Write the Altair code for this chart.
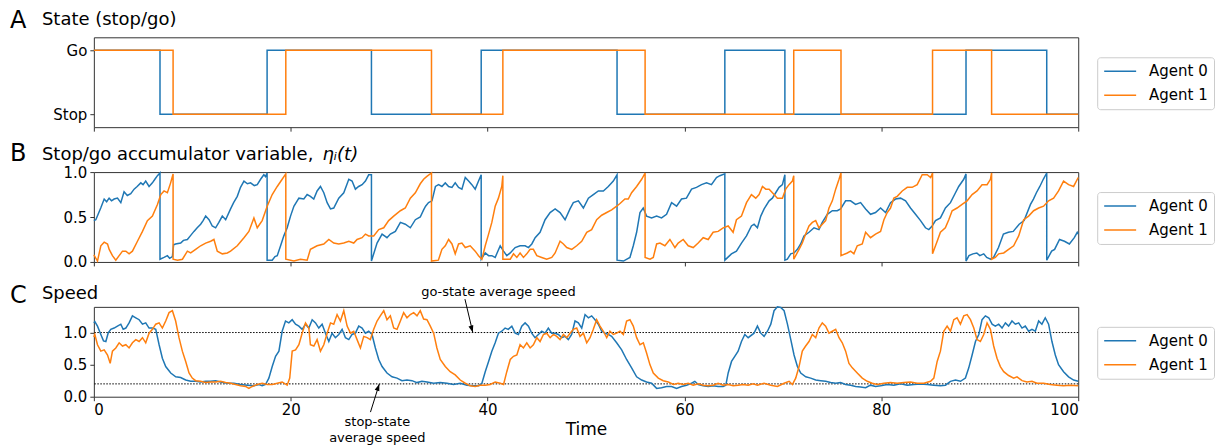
import altair as alt
import pandas as pd

AGENTS = ["Agent 0", "Agent 1"]
COLORS = ["#1f77b4", "#ff7f0e"]
FONT = "DejaVu Sans"

# ---- Panel A: stop/go state (1 = Go, 0 = Stop), value holds until the next switch ----
state_agent0 = [(0, 1), (6.72, 0), (17.6, 1), (28.2, 0), (39.35, 1), (53.15, 0), (64.1, 1),
                (70.2, 0), (88.6, 1), (96.8, 0), (100, 0)]
state_agent1 = [(0, 1), (8.05, 0), (19.5, 1), (34.3, 0), (41.55, 1), (56.0, 0), (71.1, 1),
                (75.9, 0), (85.2, 1), (91.2, 0), (100, 0)]

# ---- Panel B: accumulator eta_i(t); repeated times are resets from ~1 back to ~0 ----
eta_agent0 = [
    (0.0, .46), (0.2, .47), (0.7, .60), (1.05, .70), (1.3, .67), (1.55, .71), (1.8, .68), (2.06, .70),
    (2.4, .71), (2.74, .66), (3.07, .78), (3.4, .74), (3.75, .76), (4.09, .81), (4.4, .84), (4.77, .88),
    (5.0, .86), (5.27, .90), (5.61, .84), (5.95, .88), (6.2, .92), (6.46, .96), (6.72, .99),
    (6.72, .03), (7.13, .05), (7.47, .07), (7.7, .04), (7.98, .06), (8.1, .19), (8.3, .20), (8.82, .21),
    (9.1, .24), (9.5, .25), (9.8, .29), (10.17, .34), (10.5, .38), (10.85, .42), (11.1, .46), (11.36, .51),
    (11.7, .47), (12.03, .40), (12.37, .38), (12.7, .44), (13.05, .51), (13.39, .47), (13.89, .59),
    (14.2, .66), (14.57, .73), (14.9, .83), (15.25, .90), (15.6, .87), (15.92, .88), (16.3, .85),
    (16.6, .86), (16.94, .92), (17.27, .97), (17.44, .95), (17.6, .99),
    (17.6, .02), (18.12, .02), (18.4, .06), (18.63, .07), (18.97, .18), (19.3, .29), (19.64, .38),
    (19.98, .51), (20.32, .62), (20.83, .71), (21.33, .70), (21.67, .75), (22.0, .73), (22.34, .70),
    (22.68, .79), (23.02, .84), (23.36, .77), (23.7, .66), (24.04, .59), (24.37, .60), (24.88, .71),
    (25.39, .77), (25.9, .92), (26.23, .90), (26.57, .81), (26.9, .84), (27.25, .86), (27.59, .90),
    (27.92, .97), (28.2, .97),
    (28.2, .01), (28.77, .21), (29.28, .31), (29.78, .27), (30.12, .31), (30.63, .34), (31.14, .44),
    (31.64, .42), (32.15, .38), (32.66, .47), (33.16, .50), (33.5, .58), (33.7, .62), (34.0, .66),
    (34.35, .68), (34.7, .84), (35.02, .86), (35.36, .84), (35.7, .88), (36.04, .84), (36.38, .83),
    (36.71, .88), (37.05, .83), (37.39, .81), (37.73, .94), (38.07, .90), (38.4, .86), (38.74, .81),
    (39.08, .90), (39.35, .97),
    (39.35, .03), (39.76, .10), (40.1, .07), (40.43, .07), (40.77, .05), (41.28, .18), (41.62, .12),
    (41.95, .07), (42.3, .10), (42.8, .16), (43.3, .18), (43.81, .18), (44.15, .16), (44.49, .20),
    (44.83, .27), (45.33, .33), (45.84, .47), (46.35, .55), (46.86, .59), (47.36, .55), (47.87, .47),
    (48.37, .59), (48.71, .66), (49.22, .68), (49.73, .60), (50.24, .71), (50.74, .75), (51.25, .79),
    (51.76, .79), (52.26, .84), (52.77, .90), (53.15, .97),
    (53.15, .02), (53.8, .01), (54.46, .05), (54.8, .18), (55.14, .33), (55.48, .55), (55.81, .60),
    (56.15, .51), (56.66, .49), (57.17, .51), (57.67, .49), (58.18, .53), (58.69, .66), (59.2, .62),
    (59.7, .70), (60.2, .71), (60.72, .81), (61.22, .83), (61.73, .86), (62.24, .88), (62.74, .86),
    (63.25, .94), (63.59, .96), (64.1, .98),
    (64.1, .02), (64.77, .09), (65.28, .12), (65.79, .21), (66.3, .29), (66.8, .40), (67.07, .42),
    (67.41, .38), (67.75, .51), (68.09, .59), (68.6, .68), (68.93, .71), (69.27, .77), (69.61, .83),
    (69.95, .86), (70.2, .97),
    (70.2, .02), (70.45, .03), (70.79, .09), (71.13, .10), (71.47, .14), (71.8, .20), (72.14, .29),
    (72.65, .33), (73.16, .38), (73.66, .36), (74.0, .44), (74.51, .53), (75.02, .57), (75.52, .57),
    (75.86, .59), (76.37, .68), (76.87, .68), (77.38, .64), (77.89, .66), (78.4, .59), (78.9, .53),
    (79.41, .55), (79.92, .60), (80.43, .55), (80.93, .66), (81.44, .70), (81.95, .71), (82.46, .68),
    (82.96, .60), (83.47, .53), (83.98, .46), (84.48, .38), (84.82, .36), (85.16, .40), (85.5, .46),
    (86.0, .49), (86.51, .60), (87.02, .66), (87.53, .77), (87.86, .84), (88.37, .92), (88.6, .98),
    (88.6, .01), (88.9, .07), (89.3, .09), (89.7, .10), (90.0, .07), (90.4, .09), (90.7, .05),
    (91.1, .03), (91.4, .05), (91.9, .16), (92.4, .31), (92.9, .33), (93.4, .34), (94.0, .42),
    (94.5, .46), (95.15, .64), (95.45, .70), (95.75, .77), (96.1, .84), (96.45, .92), (96.8, .99),
    (96.8, .02), (97.3, .12), (97.6, .14), (98.1, .25), (98.6, .23), (99.1, .20), (99.6, .27),
    (99.9, .33), (100.0, .31),
]
eta_agent1 = [
    (0.0, .08), (0.37, .01), (0.71, .18), (1.05, .22), (1.39, .20), (1.56, .14), (1.89, .07), (2.23, .02),
    (2.57, .07), (2.91, .12), (3.25, .12), (3.58, .09), (3.92, .12), (4.43, .23), (4.94, .34), (5.44, .46),
    (5.95, .51), (6.46, .64), (6.8, .75), (7.13, .79), (7.47, .77), (7.8, .88), (8.05, .98),
    (8.05, .03), (8.5, .02), (9.0, .03), (9.5, .12), (9.84, .10), (10.34, .14), (10.85, .18), (11.36, .21),
    (11.87, .23), (12.2, .25), (12.54, .12), (13.05, .09), (13.56, .10), (13.89, .12), (14.57, .18),
    (15.25, .27), (15.75, .34), (16.26, .49), (16.6, .38), (17.1, .46), (17.61, .62), (18.12, .75),
    (18.63, .84), (19.13, .92), (19.5, .98),
    (19.5, .03), (20.32, .01), (20.99, .03), (21.67, .02), (22.0, .14), (22.68, .18), (23.36, .20),
    (23.87, .25), (24.37, .21), (24.88, .20), (25.39, .21), (25.9, .23), (26.4, .21), (26.74, .25),
    (27.25, .27), (27.59, .31), (27.92, .29), (28.43, .29), (28.94, .36), (29.45, .38), (29.95, .46),
    (30.46, .51), (31.14, .57), (31.64, .60), (32.15, .71), (32.66, .77), (33.16, .87), (33.5, .92),
    (33.8, .95), (34.3, .99),
    (34.3, .01), (35.0, .02), (35.36, .14), (35.7, .18), (36.04, .25), (36.38, .20), (36.71, .09),
    (37.05, .20), (37.39, .21), (37.73, .16), (38.23, .18), (38.74, .12), (39.08, .07), (39.42, .03),
    (39.76, .18), (40.1, .31), (40.43, .44), (40.77, .62), (41.1, .71), (41.44, .84), (41.55, .96),
    (41.55, .03), (42.3, .03), (42.63, .09), (42.97, .05), (43.3, .10), (43.64, .05), (43.98, .09),
    (44.32, .14), (44.65, .14), (45.0, .07), (45.5, .05), (46.0, .03), (46.52, .05), (46.86, .10),
    (47.36, .23), (47.7, .20), (48.04, .16), (48.55, .14), (49.05, .18), (49.56, .23), (50.07, .33),
    (50.57, .36), (51.08, .47), (51.59, .52), (52.1, .55), (52.6, .58), (53.11, .62), (53.45, .65),
    (53.95, .70), (54.29, .70), (54.63, .77), (55.14, .84), (55.65, .92), (56.0, .99),
    (56.0, .05), (56.5, .03), (56.83, .05), (57.17, .20), (57.51, .21), (58.01, .18), (58.52, .25),
    (59.03, .16), (59.36, .21), (59.87, .25), (60.38, .18), (60.89, .16), (61.39, .21), (61.9, .27),
    (62.41, .25), (62.91, .33), (63.42, .34), (63.93, .38), (64.44, .40), (64.94, .33), (65.28, .47),
    (65.79, .51), (66.3, .66), (66.8, .75), (67.24, .71), (67.58, .75), (67.92, .84), (68.26, .81),
    (68.6, .81), (69.1, .75), (69.44, .71), (69.95, .71), (70.28, .81), (70.62, .86), (70.96, .90),
    (71.1, .96),
    (71.1, .03), (71.64, .14), (71.97, .21), (72.31, .31), (72.65, .40), (72.99, .44), (73.33, .46),
    (73.66, .38), (74.0, .42), (74.34, .46), (74.68, .60), (75.02, .68), (75.36, .81), (75.7, .92),
    (75.9, .99),
    (75.9, .07), (76.54, .10), (76.88, .12), (77.21, .09), (77.55, .18), (78.06, .20), (78.4, .33),
    (78.9, .27), (79.41, .31), (79.92, .34), (80.26, .47), (80.6, .55), (80.93, .60), (81.27, .71),
    (81.61, .73), (82.12, .79), (82.63, .83), (83.13, .83), (83.64, .86), (84.15, .97), (84.66, .97),
    (85.0, .94), (85.2, .99),
    (85.2, .09), (85.67, .23), (86.0, .33), (86.5, .38), (86.85, .47), (87.19, .57), (87.69, .60),
    (88.2, .64), (88.71, .68), (89.22, .75), (89.72, .79), (90.23, .86), (90.74, .86), (91.08, .92),
    (91.2, .99),
    (91.2, .03), (91.58, .05), (91.92, .09), (92.43, .10), (92.93, .14), (93.44, .18), (93.95, .29),
    (94.46, .47), (94.96, .51), (95.47, .57), (95.98, .60), (96.48, .62), (96.99, .68), (97.5, .71),
    (98.0, .79), (98.51, .90), (99.02, .86), (99.53, .84), (100.0, .94),
]

# ---- Panel C: speed ----
speed_agent0 = [
    (0.0, 1.15), (0.1, 1.17), (0.37, 1.10), (0.71, 0.97), (0.98, 0.87), (1.22, 0.86), (1.45, 0.99),
    (1.72, 1.05), (2.06, 1.07), (2.4, 1.10), (2.74, 1.13), (2.98, 1.05), (3.25, 1.07), (3.58, 1.15),
    (3.92, 1.26), (4.26, 1.23), (4.6, 1.20), (4.94, 1.13), (5.27, 1.15), (5.61, 1.07), (5.95, 1.07),
    (6.29, 1.05), (6.63, 0.81), (6.96, 0.60), (7.3, 0.47), (7.81, 0.37), (8.32, 0.31), (8.82, 0.30),
    (9.33, 0.26), (9.84, 0.24), (10.34, 0.24), (10.85, 0.23), (11.36, 0.24), (11.87, 0.24),
    (12.37, 0.25), (12.88, 0.23), (13.56, 0.21), (14.23, 0.21), (14.91, 0.19), (15.58, 0.18),
    (16.26, 0.17), (16.77, 0.19), (17.1, 0.17), (17.44, 0.19), (17.78, 0.29), (18.12, 0.47),
    (18.46, 0.63), (18.8, 0.71), (19.13, 1.02), (19.47, 1.18), (19.81, 1.15), (20.15, 1.20),
    (20.49, 1.13), (20.83, 1.10), (21.16, 1.05), (21.5, 1.13), (21.84, 1.07), (22.18, 1.20),
    (22.52, 1.15), (22.85, 1.07), (23.19, 1.13), (23.53, 0.99), (23.87, 0.86), (24.2, 0.99),
    (24.54, 0.92), (24.88, 0.97), (25.22, 1.05), (25.56, 0.92), (25.9, 0.89), (26.23, 0.97),
    (26.57, 0.99), (26.91, 1.10), (27.25, 1.07), (27.59, 0.99), (27.92, 1.02), (28.26, 0.97),
    (28.6, 0.76), (28.94, 0.58), (29.28, 0.47), (29.78, 0.37), (30.29, 0.31), (30.8, 0.29),
    (31.3, 0.25), (31.81, 0.26), (32.32, 0.25), (32.83, 0.22), (33.33, 0.24), (33.84, 0.23),
    (34.52, 0.21), (35.19, 0.22), (35.87, 0.21), (36.54, 0.19), (37.22, 0.21), (37.9, 0.18),
    (38.57, 0.17), (39.08, 0.17), (39.42, 0.21), (39.76, 0.39), (40.1, 0.55), (40.43, 0.71),
    (40.77, 0.84), (41.1, 0.99), (41.44, 1.02), (41.78, 1.07), (42.1, 1.05), (42.46, 1.10),
    (42.8, 0.99), (43.13, 0.97), (43.47, 1.10), (43.81, 1.15), (44.15, 1.10), (44.48, 0.99),
    (44.82, 0.92), (45.16, 0.97), (45.5, 1.02), (45.84, 0.99), (46.17, 1.07), (46.51, 0.99),
    (46.85, 0.99), (47.19, 0.97), (47.53, 0.92), (47.87, 0.94), (48.2, 0.89), (48.54, 0.97),
    (48.88, 1.18), (49.22, 1.15), (49.56, 1.07), (49.9, 1.28), (50.24, 1.23), (50.57, 1.26),
    (50.91, 1.20), (51.25, 1.13), (51.59, 1.02), (51.93, 0.99), (52.26, 0.97), (52.6, 0.94),
    (53.11, 0.84), (53.62, 0.73), (54.12, 0.58), (54.63, 0.45), (55.14, 0.31), (55.65, 0.26),
    (56.15, 0.23), (56.66, 0.21), (57.17, 0.13), (57.67, 0.14), (58.18, 0.16), (58.69, 0.16),
    (59.2, 0.13), (59.7, 0.16), (60.21, 0.18), (60.72, 0.21), (61.05, 0.24), (61.4, 0.19),
    (61.9, 0.17), (62.41, 0.16), (62.92, 0.17), (63.42, 0.16), (63.93, 0.16), (64.2, 0.18),
    (64.44, 0.37), (64.78, 0.55), (65.11, 0.63), (65.45, 0.71), (65.79, 0.86), (66.13, 0.97),
    (66.47, 0.92), (67.07, 0.99), (67.41, 1.10), (67.75, 0.99), (68.09, 0.94), (68.43, 1.02),
    (68.77, 1.13), (69.1, 1.34), (69.44, 1.40), (69.78, 1.39), (70.12, 1.34), (70.46, 1.13),
    (70.8, 0.89), (71.13, 0.65), (71.47, 0.47), (71.81, 0.37), (72.32, 0.31), (72.82, 0.29),
    (73.33, 0.26), (73.84, 0.25), (74.34, 0.24), (74.85, 0.22), (75.36, 0.21), (75.86, 0.22),
    (76.37, 0.19), (76.88, 0.18), (77.39, 0.16), (77.89, 0.15), (78.4, 0.14), (78.9, 0.18),
    (79.41, 0.16), (79.92, 0.17), (80.6, 0.19), (81.27, 0.18), (81.95, 0.20), (82.63, 0.18),
    (83.3, 0.19), (83.98, 0.20), (84.66, 0.19), (85.33, 0.18), (86.0, 0.17), (86.51, 0.18),
    (87.02, 0.24), (87.53, 0.26), (88.04, 0.24), (88.54, 0.29), (88.88, 0.45), (89.22, 0.65),
    (89.56, 0.86), (89.9, 0.97), (90.23, 1.20), (90.57, 1.26), (90.91, 1.23), (91.25, 1.13),
    (91.58, 1.10), (91.92, 1.13), (92.26, 1.07), (92.6, 1.15), (92.93, 1.10), (93.27, 1.18),
    (93.61, 1.13), (93.95, 1.15), (94.29, 1.07), (94.62, 1.10), (94.96, 1.02), (95.3, 1.05),
    (95.64, 1.02), (95.98, 1.18), (96.31, 1.13), (96.65, 1.23), (96.99, 1.13), (97.33, 0.86),
    (97.67, 0.65), (98.0, 0.50), (98.51, 0.39), (99.02, 0.31), (99.53, 0.26), (100.0, 0.24),
]
speed_agent1 = [
    (0.0, 0.93), (0.1, 0.97), (0.37, 0.81), (0.71, 0.71), (1.05, 0.73), (1.39, 0.65), (1.66, 0.52),
    (1.89, 0.71), (2.23, 0.76), (2.57, 0.84), (2.91, 0.79), (3.25, 0.81), (3.58, 0.76), (3.92, 0.84),
    (4.26, 0.89), (4.6, 0.86), (4.94, 0.92), (5.27, 0.84), (5.61, 0.99), (5.95, 1.05), (6.29, 1.13),
    (6.63, 1.15), (6.96, 1.07), (7.3, 1.18), (7.64, 1.31), (7.98, 1.34), (8.31, 1.18), (8.65, 0.92),
    (8.99, 0.71), (9.33, 0.55), (9.67, 0.37), (10.0, 0.29), (10.34, 0.25), (10.85, 0.24),
    (11.36, 0.22), (11.87, 0.23), (12.37, 0.23), (12.88, 0.24), (13.39, 0.22), (13.9, 0.21),
    (14.4, 0.19), (14.91, 0.17), (15.42, 0.16), (15.75, 0.13), (16.09, 0.16), (16.6, 0.19),
    (17.1, 0.21), (17.61, 0.19), (18.12, 0.19), (18.63, 0.21), (19.13, 0.23), (19.64, 0.18),
    (19.9, 0.29), (20.15, 0.71), (20.49, 0.73), (20.83, 0.81), (21.16, 0.99), (21.5, 1.15),
    (21.84, 1.07), (22.0, 0.81), (22.35, 0.79), (22.68, 0.89), (23.02, 0.71), (23.36, 0.81),
    (23.7, 0.99), (24.04, 1.15), (24.37, 1.13), (24.71, 1.28), (25.05, 1.18), (25.39, 1.34),
    (25.73, 1.10), (26.07, 0.99), (26.4, 1.02), (26.74, 0.89), (27.08, 0.76), (27.42, 0.94),
    (27.76, 0.92), (28.09, 0.89), (28.43, 1.05), (28.77, 1.18), (29.1, 1.26), (29.45, 1.34),
    (29.78, 1.20), (30.12, 1.26), (30.46, 1.07), (30.8, 1.05), (31.14, 1.18), (31.47, 1.31),
    (31.81, 1.23), (32.15, 1.28), (32.49, 1.31), (32.83, 1.26), (33.16, 1.34), (33.5, 1.21),
    (33.84, 1.20), (34.18, 1.10), (34.52, 0.99), (34.85, 0.76), (35.19, 0.58), (35.7, 0.47),
    (36.2, 0.39), (36.71, 0.34), (37.22, 0.26), (37.73, 0.21), (38.23, 0.17), (38.74, 0.16),
    (39.25, 0.18), (39.76, 0.18), (40.27, 0.19), (40.77, 0.23), (41.28, 0.21), (41.62, 0.19),
    (41.95, 0.39), (42.3, 0.58), (42.63, 0.63), (42.97, 0.65), (43.3, 0.81), (43.64, 0.76),
    (43.98, 0.84), (44.32, 0.76), (44.65, 0.81), (45.0, 0.92), (45.33, 0.86), (45.67, 0.97),
    (46.0, 0.99), (46.35, 0.92), (46.69, 0.97), (47.02, 0.94), (47.36, 0.89), (47.7, 0.97),
    (48.04, 0.92), (48.38, 0.99), (48.71, 1.05), (49.05, 1.07), (49.39, 0.94), (49.73, 0.99),
    (50.07, 0.84), (50.41, 0.92), (50.74, 1.05), (51.08, 1.20), (51.42, 1.10), (51.76, 1.02),
    (52.1, 0.92), (52.43, 1.02), (52.77, 0.97), (53.11, 0.99), (53.45, 1.02), (53.79, 0.97),
    (54.12, 1.18), (54.46, 1.20), (54.8, 1.10), (55.14, 0.92), (55.48, 0.81), (55.82, 0.84),
    (56.15, 0.68), (56.49, 0.50), (56.83, 0.37), (57.34, 0.29), (57.84, 0.25), (58.35, 0.23),
    (58.86, 0.19), (59.36, 0.21), (59.87, 0.19), (60.38, 0.21), (60.89, 0.18), (61.39, 0.20),
    (61.9, 0.18), (62.41, 0.17), (62.92, 0.18), (63.42, 0.21), (63.93, 0.18), (64.44, 0.19),
    (64.94, 0.17), (65.45, 0.18), (65.96, 0.19), (66.47, 0.18), (66.98, 0.20), (67.41, 0.18),
    (68.09, 0.21), (68.77, 0.18), (69.44, 0.16), (70.12, 0.21), (70.63, 0.24), (70.96, 0.19),
    (71.3, 0.29), (71.64, 0.47), (71.97, 0.71), (72.31, 0.79), (72.65, 0.86), (72.99, 0.97),
    (73.33, 0.92), (73.66, 1.07), (74.0, 1.15), (74.34, 1.10), (74.68, 0.99), (75.02, 1.02),
    (75.36, 1.05), (75.7, 0.92), (76.03, 0.84), (76.37, 0.71), (76.71, 0.52), (77.05, 0.45),
    (77.55, 0.37), (78.06, 0.29), (78.57, 0.24), (79.07, 0.21), (79.58, 0.19), (80.26, 0.21),
    (80.93, 0.22), (81.61, 0.21), (82.29, 0.22), (82.96, 0.23), (83.64, 0.21), (84.32, 0.21),
    (85.0, 0.24), (85.33, 0.29), (85.67, 0.55), (86.0, 0.71), (86.34, 1.02), (86.68, 1.10),
    (87.02, 1.02), (87.36, 1.20), (87.69, 1.23), (88.03, 1.13), (88.37, 1.26), (88.71, 1.28),
    (89.05, 1.20), (89.39, 1.07), (89.72, 0.89), (90.06, 0.86), (90.4, 0.97), (90.74, 1.15),
    (91.08, 1.05), (91.41, 0.79), (91.75, 0.60), (92.09, 0.47), (92.43, 0.39), (92.93, 0.33),
    (93.44, 0.29), (93.78, 0.31), (94.29, 0.25), (94.8, 0.23), (95.3, 0.24), (95.81, 0.21),
    (96.48, 0.21), (97.16, 0.19), (97.84, 0.18), (98.51, 0.17), (99.19, 0.18), (100.0, 0.17),
]

# reference speeds and their annotations
go_speed = 1.0
stop_speed = 0.2
go_arrow = [(37.7, 1.52), (38.5, 1.0)]
stop_arrow = [(28.1, -0.24), (29.0, 0.2)]
go_note = (41.1, 1.625, "go-state average speed")
stop_note = [(28.8, -0.39, "stop-state"), (28.8, -0.645, "average speed")]

W, H = 986, 90
X_TICKS = [0, 20, 40, 60, 80, 100]


def frame(series):
    rows = []
    for name, pairs in zip(AGENTS, series):
        for i, (t, v) in enumerate(pairs):
            rows.append({"agent": name, "i": i, "t": t, "v": v})
    return pd.DataFrame(rows)


def legend():
    return alt.Legend(
        title=None, orient="none", legendX=1005, legendY=20,
        symbolType="stroke", symbolSize=1024, symbolStrokeWidth=1.6, clipHeight=16,
        labelFont=FONT, labelFontSize=15, labelColor="black", labelOffset=12,
        padding=6, rowPadding=8, strokeColor="#cccccc", fillColor="white",
        cornerRadius=3,
    )


def x_enc(show_labels):
    if show_labels:
        axis = alt.Axis(values=X_TICKS, title="Time", labelPadding=2, titlePadding=4)
    else:
        axis = alt.Axis(values=X_TICKS, labels=False, title=None)
    return alt.X("t:Q", scale=alt.Scale(domain=[0, 100], nice=False, zero=False), axis=axis)


def heading(letter, title, letter_y, title_y, italic_part=None, italic_x=0):
    layers = [
        alt.Chart(pd.DataFrame({"s": [letter]})).mark_text(
            font=FONT, fontSize=24, align="left", baseline="alphabetic", color="black"
        ).encode(text="s:N", x=alt.value(-84), y=alt.value(letter_y)),
        alt.Chart(pd.DataFrame({"s": [title]})).mark_text(
            font=FONT, fontSize=18, align="left", baseline="alphabetic", color="black"
        ).encode(text="s:N", x=alt.value(-52), y=alt.value(title_y)),
    ]
    if italic_part:
        layers.append(
            alt.Chart(pd.DataFrame({"s": [italic_part]})).mark_text(
                font=FONT, fontSize=18, fontStyle="italic", align="left",
                baseline="alphabetic", color="black"
            ).encode(text="s:N", x=alt.value(italic_x), y=alt.value(title_y))
        )
    return layers


color = alt.Color("agent:N", scale=alt.Scale(domain=AGENTS, range=COLORS), legend=legend())

# ---- A ----
state_lines = alt.Chart(frame([state_agent0, state_agent1])).mark_line(
    interpolate="step-after", strokeWidth=1.5
).encode(
    x=x_enc(False),
    y=alt.Y("v:Q", scale=alt.Scale(domain=[-0.2, 1.2], nice=False, zero=False),
            axis=alt.Axis(values=[0, 1], title=None,
                          labelExpr="datum.value == 1 ? 'Go' : 'Stop'")),
    color=color,
    order="i:Q",
)
panel_a = alt.layer(state_lines, *heading("A", "State (stop/go)", -9, -12)).properties(width=W, height=H)

# ---- B ----
eta_lines = alt.Chart(frame([eta_agent0, eta_agent1])).mark_line(strokeWidth=1.5).encode(
    x=x_enc(False),
    y=alt.Y("v:Q", scale=alt.Scale(domain=[0, 1], nice=False),
            axis=alt.Axis(values=[0, 0.5, 1], format=".1f", title=None)),
    color=color,
    order="i:Q",
)
panel_b = alt.layer(
    eta_lines,
    *heading("B", "Stop/go accumulator variable,", -11, -12, "\u03b7\u1d62(t)", 229),
).properties(width=W, height=H)

# ---- C ----
speed_y = alt.Scale(domain=[0, 1.4], nice=False)
speed_lines = alt.Chart(frame([speed_agent0, speed_agent1])).mark_line(strokeWidth=1.5).encode(
    x=x_enc(True),
    y=alt.Y("v:Q", scale=speed_y,
            axis=alt.Axis(values=[0, 0.5, 1], format=".1f", title=None)),
    color=color,
    order="i:Q",
)
ref_lines = alt.Chart(pd.DataFrame({"v": [go_speed, stop_speed]})).mark_rule(
    color="black", strokeWidth=1, strokeDash=[1.5, 1.5]
).encode(y=alt.Y("v:Q", scale=speed_y))

arrow_rows = []
for k, pts in enumerate([go_arrow, stop_arrow]):
    for i, (t, v) in enumerate(pts):
        arrow_rows.append({"arrow": k, "i": i, "t": t, "v": v})
arrows_df = pd.DataFrame(arrow_rows)
arrow_shafts = alt.Chart(arrows_df).mark_line(color="black", strokeWidth=1).encode(
    x="t:Q", y=alt.Y("v:Q", scale=speed_y), detail="arrow:N", order="i:Q"
)
heads_df = pd.DataFrame({
    "t": [go_arrow[1][0], stop_arrow[1][0]],
    "v": [go_arrow[1][1], stop_arrow[1][1]],
    "angle": [344, 199],
})
arrow_heads = alt.Chart(heads_df).mark_point(
    shape="M0,0L-0.35,-1L0.35,-1Z", filled=True, color="black", opacity=1, size=200
).encode(x="t:Q", y=alt.Y("v:Q", scale=speed_y), angle=alt.Angle("angle:Q", scale=None))

notes_df = pd.DataFrame(
    [{"t": go_note[0], "v": go_note[1], "s": go_note[2]}]
    + [{"t": t, "v": v, "s": s} for t, v, s in stop_note]
)
notes = alt.Chart(notes_df).mark_text(
    font=FONT, fontSize=13, color="black", align="center", baseline="middle"
).encode(x="t:Q", y=alt.Y("v:Q", scale=speed_y), text="s:N")

panel_c = alt.layer(
    ref_lines, speed_lines, arrow_shafts, arrow_heads, notes,
    *heading("C", "Speed", -4, -8),
).properties(width=W, height=H)

chart = alt.vconcat(panel_a, panel_b, panel_c, spacing=45, bounds="flush").resolve_scale(
    color="independent"
).resolve_legend(color="independent").properties(
    padding={"left": 9, "top": 8, "right": 5, "bottom": 4}
).configure_view(
    stroke="#333333", strokeWidth=1
).configure_axis(
    domain=False, grid=False, tickColor="#333333", tickSize=4, tickWidth=1,
    labelFont=FONT, labelFontSize=15, labelColor="black", labelPadding=3,
    titleFont=FONT, titleFontSize=17, titleFontWeight="normal", titleColor="black",
)

chart.save("out.html", embed_options={"renderer": "svg", "actions": False})
